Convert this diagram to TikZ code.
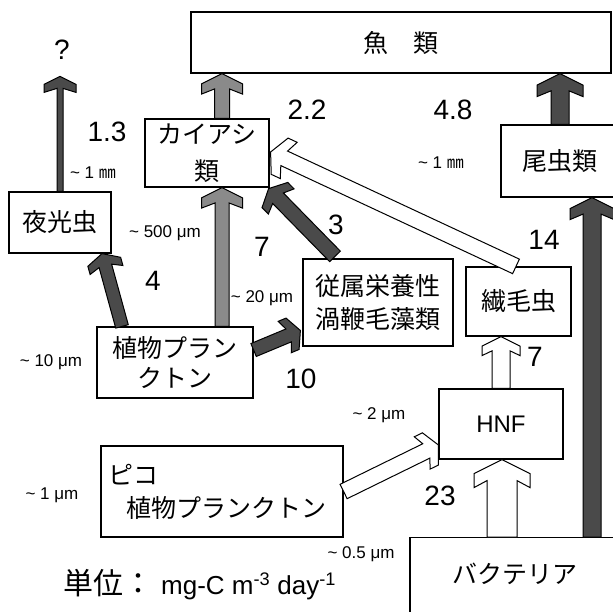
\documentclass[tikz,border=0pt]{standalone}
\usepackage{fontspec}
\setmainfont{Liberation Sans}
\newfontfamily\jp{Noto Sans CJK JP}
\usetikzlibrary{calc}
\definecolor{darkflow}{HTML}{4A4A4A}
\definecolor{midflow}{HTML}{8A8A8A}

% block arrow: style, from, to, shaft half width, head half width
\newcommand\flowarrow[5][]{%
  \pgfmathsetmacro\hda{0.5*#5}%
  \pgfmathsetmacro\hdb{#5}%
  \pgfmathsetmacro\hdc{0.75*#5}%
  \draw[#1] ($(#2)!#4pt!90:(#3)$)
    -- ($($(#3)!\hdc pt!(#2)$)!#4pt!90:(#3)$)
    -- ($($(#3)!\hdb pt!(#2)$)!#5pt!90:(#3)$)
    -- ($($(#3)!\hda pt!(#2)$)!#5pt!90:(#3)$)
    -- (#3)
    -- ($($(#3)!\hda pt!(#2)$)!#5pt!-90:(#3)$)
    -- ($($(#3)!\hdb pt!(#2)$)!#5pt!-90:(#3)$)
    -- ($($(#3)!\hdc pt!(#2)$)!#4pt!-90:(#3)$)
    -- ($(#2)!#4pt!-90:(#3)$) -- cycle;}

\begin{document}
\begin{tikzpicture}
[x=1pt, y=-1pt,
  box/.style={draw, line width=1.2pt, inner sep=0pt, align=center,
    font=\jp\fontsize{25}{33}\selectfont},
  num/.style={inner sep=0pt, font=\fontsize{28}{30}\selectfont},
  size/.style={inner sep=0pt, font=\fontsize{17}{20}\selectfont},
  darkarr/.style={draw, line width=1pt, fill=darkflow},
  midarr/.style={draw, line width=1pt, fill=midflow},
  openarr/.style={draw, line width=1pt, fill=white}]
  \useasboundingbox (0,0) rectangle (613,612);

  % organisms
  \node[box, minimum width=420pt, minimum height=61pt] (fish) at (401,42.5) {魚　類};
  \node[box, minimum width=124pt, minimum height=68pt,
    font=\jp\fontsize{25}{37}\selectfont] (kai) at (207,153) {カイアシ\\類};
  \node[box, minimum width=102pt, minimum height=61pt] (yako) at (60,222.5) {夜光虫};
  \node[box, minimum width=156pt, minimum height=71pt,
    font=\jp\fontsize{25}{30}\selectfont] (shoku) at (175,362.5) {植物プラン\\クトン};
  \node[box, minimum width=150pt, minimum height=87pt] (jyu) at (378,302.5) {従属栄養性\\渦鞭毛藻類};
  \node[box, minimum width=105pt, minimum height=69pt] (sen) at (518.5,301.5) {繊毛虫};
  \node[box, minimum width=118pt, minimum height=72pt] (bi) at (560,161) {尾虫類};
  \node[box, minimum width=124pt, minimum height=70pt,
    font=\fontsize{24}{28}\selectfont] (hnf) at (501,424) {HNF};
  \node[box, text width=228pt, inner xsep=7pt, minimum height=91pt, align=left]
    (pico) at (222,491.5) {ピコ\\\hspace*{18pt}植物プランクトン};
  \node[box, anchor=north, minimum width=210pt, text height=45.5pt, text depth=42.5pt]
    (bac) at (515,537) {バクテリア};

  % arrow ends
  \coordinate (yakoup) at (yako.north);
  \coordinate (qtip) at ($(yako.north)+(0,-115)$);
  \coordinate (kaiup) at ($(kai.north)+(15,0)$);
  \coordinate (fishkai) at (kaiup |- fish.south);
  \coordinate (fishbi) at (bi.north |- fish.south);
  \coordinate (shokuup) at ($(shoku.north)+(47,0)$);
  \coordinate (kaidown) at (shokuup |- kai.south);
  \coordinate (shokuleft) at ($(shoku.north)+(-53,0)$);
  \coordinate (yakodown) at ($(yako.south)+(42,0)$);
  \coordinate (shokuright) at ($(shoku.east)+(0,-12.5)$);
  \coordinate (jyuleft) at ($(jyu.west)+(-2,28)$);
  \coordinate (jyuup) at ($(jyu.north)+(-43,-2)$);
  \coordinate (kaicorner) at ($(kai.south east)+(-1,1)$);
  \coordinate (senup) at ($(sen.north)+(-2.5,0)$);
  \coordinate (kairight) at ($(kai.east)+(1,-1)$);
  \coordinate (sendown) at (hnf.north |- sen.south);
  \coordinate (hnfleft) at ($(hnf.west)+(0,21)$);
  \coordinate (bachnf) at ($(bac.north)+(-13,0)$);
  \coordinate (hnfdown) at (bachnf |- hnf.south);
  \coordinate (bacbi) at ($(bac.north)+(77,0)$);
  \coordinate (bidown) at (bacbi |- bi.south);

  % flows
  \flowarrow[darkarr]{yakoup}{qtip}{3}{16}
  \flowarrow[midarr]{kaiup}{fishkai}{7.5}{20.5}
  \flowarrow[darkarr]{bi.north}{fishbi}{9}{23}
  \flowarrow[midarr]{shokuup}{kaidown}{7}{20.5}
  \flowarrow[darkarr]{shokuleft}{yakodown}{6.5}{17}
  \flowarrow[darkarr]{shokuright}{jyuleft}{7}{17}
  \flowarrow[darkarr]{jyuup}{kaicorner}{7.5}{18}
  \flowarrow[openarr]{senup}{kairight}{8}{20}
  \flowarrow[openarr]{hnf.north}{sendown}{9}{19}
  \flowarrow[openarr]{pico.east}{hnfleft}{8}{18}
  \flowarrow[openarr]{bachnf}{hnfdown}{15}{28}
  \flowarrow[darkarr]{bacbi}{bidown}{9}{22}

  % rates
  \node[num] (q) at (62,50) {?};
  \node[num] (v13) at (107,132) {1.3};
  \node[num] (v22) at (307,110) {2.2};
  \node[num] (v48) at (453,110) {4.8};
  \node[num] (v4) at (153,281) {4};
  \node[num] (v7a) at (262,247) {7};
  \node[num] (v3) at (336,225) {3};
  \node[num] (v14) at (544,240) {14};
  \node[num] (v10) at (301,379) {10};
  \node[num] (v7b) at (535,357) {7};
  \node[num] (v23) at (440,496) {23};

  % sizes
  \node[size] (s1mma) at (93,173) {\textasciitilde{} 1 {\jp ㎜}};
  \node[size] (s1mmb) at (441,163) {\textasciitilde{} 1 {\jp ㎜}};
  \node[size] (s500) at (165,233) {\textasciitilde{} 500 μm};
  \node[size] (s20) at (262,298) {\textasciitilde{} 20 μm};
  \node[size] (s10) at (51,362) {\textasciitilde{} 10 μm};
  \node[size] (s2) at (379,415) {\textasciitilde{} 2 μm};
  \node[size] (s1) at (52,495) {\textasciitilde{} 1 μm};
  \node[size] (s05) at (361,554) {\textasciitilde{} 0.5 μm};

  \node[inner sep=0pt, font=\fontsize{26}{30}\selectfont] (unit) at (200,585)
    {{\jp\fontsize{30}{32}\selectfont 単位：} mg-C m\textsuperscript{-3} day\textsuperscript{-1}};
\end{tikzpicture}
\end{document}
